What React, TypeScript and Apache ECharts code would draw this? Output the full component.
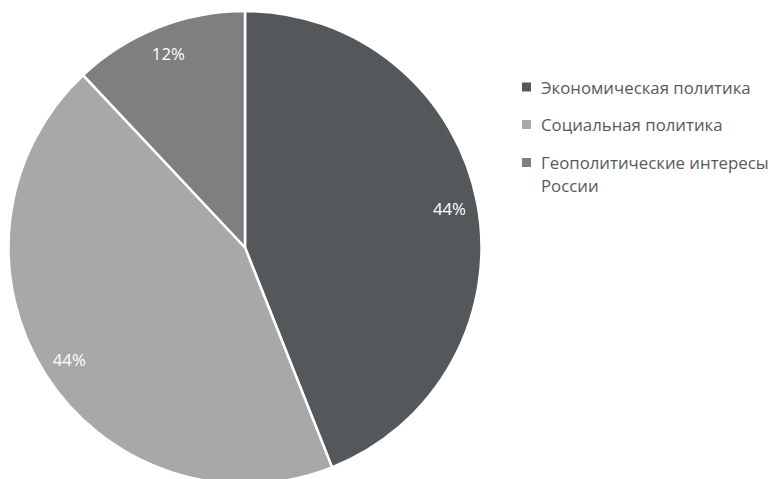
import React, { useEffect, useRef } from "react";
import * as echarts from "echarts";

const CATEGORIES = [
  "Экономическая политика",
  "Социальная политика",
  "Геополитические интересы России",
];
const VALUES = [44, 44, 12];
const COLORS = ["#55585b", "#a8a8a9", "#7f7f80"];

const CX = 245;
const CY = 247.5;
const R = 236.5;
const LABEL_RATIO = 0.88;
const FONT = "'Open Sans', 'Noto Sans', sans-serif";
const WRAP_CHARS = 24;

function wrap(text: string, max: number): string[] {
  const words = text.split(" ");
  const lines: string[] = [];
  let cur = "";
  for (const w of words) {
    const next = cur ? cur + " " + w : w;
    if (next.length > max && cur) {
      lines.push(cur);
      cur = w;
    } else {
      cur = next;
    }
  }
  if (cur) lines.push(cur);
  return lines;
}

// keep the marker level with the first line: pad the block above so the
// centred block puts line 1 in the middle
function legendLabel(name: string): string {
  const lines = wrap(name, WRAP_CHARS);
  const pad: string[] = [];
  for (let i = 1; i < lines.length; i++) pad.push("");
  return [...pad, ...lines].join("\n");
}

export default function App() {
  const ref = useRef<HTMLDivElement>(null);
  useEffect(() => {
    if (!ref.current) return;
    const chart = echarts.init(ref.current, undefined, { renderer: "svg" });
    const data = CATEGORIES.map((name, i) => ({
      name,
      value: VALUES[i],
      itemStyle: { color: COLORS[i] },
    }));
    const legendText = {
      fontFamily: FONT,
      fontSize: 16.8,
      lineHeight: 23,
      color: "#595959",
      padding: [0, 0, 0, 5],
    };
    const legendBase = {
      orient: "vertical",
      left: 522,
      padding: 0,
      itemWidth: 9,
      itemHeight: 9,
      icon: "rect",
      itemStyle: { borderWidth: 0 },
      formatter: legendLabel,
      textStyle: legendText,
    };
    chart.setOption({
      animation: false,
      backgroundColor: "#ffffff",
      legend: [
        {
          ...legendBase,
          top: 75.5,
          itemGap: 14.5,
          data: CATEGORIES.slice(0, 2),
        },
        {
          ...legendBase,
          top: 128,
          data: CATEGORIES.slice(2),
        },
      ],
      series: [
        {
          type: "pie",
          center: [CX, CY],
          radius: [0, R],
          startAngle: 90,
          clockwise: true,
          data,
          itemStyle: { borderColor: "#ffffff", borderWidth: 2.5 },
          emphasis: { disabled: true },
          labelLine: { show: false },
          label: {
            show: true,
            position: "inside",
            color: "#ffffff",
            fontFamily: FONT,
            fontSize: 16.8,
            formatter: (p: any) => Math.round(p.percent) + "%",
          },
          labelLayout: (p: any) => {
            const r = p.labelRect;
            const lx = r.x + r.width / 2;
            const ly = r.y + r.height / 2;
            const dx = lx - CX;
            const dy = ly - CY;
            const len = Math.sqrt(dx * dx + dy * dy) || 1;
            return {
              x: CX + (dx / len) * R * LABEL_RATIO,
              y: CY + (dy / len) * R * LABEL_RATIO,
              align: "center",
              verticalAlign: "middle",
            };
          },
        },
      ],
    });
    return () => chart.dispose();
  }, []);
  return (
    <div
      ref={ref}
      style={{ position: "fixed", left: 0, top: 0, width: 768, height: 479 }}
    />
  );
}
